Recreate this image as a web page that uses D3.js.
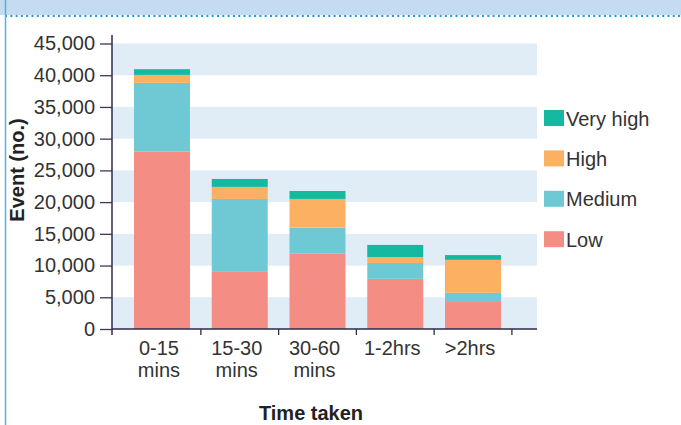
<!DOCTYPE html>
<html>
<head>
<meta charset="utf-8">
<script src="https://cdn.jsdelivr.net/npm/d3@7"></script>
<style>
  body { margin: 0; background: #fff; }
  text { font-family: "Liberation Sans", Arial, sans-serif; }
</style>
</head>
<body>
<svg id="chart"></svg>
<script>
// width and height of the whole picture
const width = 681;
const height = 425;

// categories on the x axis (two lines each)
const categories = ["0-15 mins", "15-30 mins", "30-60 mins", "1-2hrs", ">2hrs"];
const categoryLines = [["0-15", "mins"], ["15-30", "mins"], ["30-60", "mins"], ["1-2hrs"], [">2hrs"]];

// severity series, bottom to top
const seriesNames = ["Low", "Medium", "High", "Very high"];
const lowValues = [28000, 9000, 11900, 7900, 4400];
const mediumValues = [10800, 11500, 4100, 2500, 1300];
const highValues = [1250, 1900, 4500, 950, 5200];
const veryHighValues = [900, 1250, 1250, 1900, 750];

// y ticks
const yTicks = [0, 5000, 10000, 15000, 20000, 25000, 30000, 35000, 40000, 45000];

const colors = {
    "Low": "#f48e85",
    "Medium": "#6fc9d5",
    "High": "#fbb062",
    "Very high": "#14b9a0"
};

const svg = d3.select("#chart")
    .attr("width", width)
    .attr("height", height);

// header strip and its dotted edge
svg.append("rect")
    .attr("x", 0).attr("y", 0)
    .attr("width", width).attr("height", 15)
    .attr("fill", "#c5dcf0");
svg.append("line")
    .attr("x1", 5).attr("x2", width)
    .attr("y1", 16).attr("y2", 16)
    .attr("stroke", "#1e9ae0")
    .attr("stroke-width", 2)
    .attr("stroke-dasharray", "2,3.3");
// left frame line
svg.append("line")
    .attr("x1", 5.5).attr("x2", 5.5)
    .attr("y1", 0).attr("y2", height)
    .attr("stroke", "#4cb3e6")
    .attr("stroke-width", 1.5);

// scales
const y = d3.scaleLinear()
    .domain([0, 45000])
    .range([329, 43.5]);

const x = d3.scaleBand()
    .domain(categories)
    .range([123.1, 511.9])
    .paddingInner(0.28)
    .paddingOuter(0.14);

const axisX = 112;
const plotRight = 537;

// alternating background bands
const bandStarts = yTicks.filter((d, i) => i % 2 === 0 && d < 45000);
svg.append("g")
    .selectAll("rect")
    .data(bandStarts)
    .join("rect")
    .attr("x", axisX)
    .attr("y", d => y(d + 5000))
    .attr("width", plotRight - axisX)
    .attr("height", d => y(d) - y(d + 5000))
    .attr("fill", "#e0ecf6");

// stacked bars
const rows = categories.map((c, i) => ({
    category: c,
    "Low": lowValues[i],
    "Medium": mediumValues[i],
    "High": highValues[i],
    "Very high": veryHighValues[i]
}));
const stacked = d3.stack().keys(seriesNames)(rows);

svg.append("g")
    .selectAll("g")
    .data(stacked)
    .join("g")
    .attr("fill", d => colors[d.key])
    .selectAll("rect")
    .data(d => d)
    .join("rect")
    .attr("x", d => x(d.data.category))
    .attr("y", d => y(d[1]))
    .attr("width", x.bandwidth())
    .attr("height", d => y(d[0]) - y(d[1]));

// y axis
const yAxis = svg.append("g")
    .attr("transform", `translate(${axisX},0)`)
    .call(d3.axisLeft(y)
        .tickValues(yTicks)
        .tickSize(12)
        .tickPadding(5)
        .tickFormat(d3.format(",")));
yAxis.select(".domain").remove();
yAxis.selectAll(".tick line").attr("stroke", "#3a3a5a").attr("stroke-width", 1.3);
yAxis.selectAll(".tick text")
    .attr("font-size", 20)
    .attr("fill", "#333")
    .attr("font-family", "Liberation Sans, Arial, sans-serif");
svg.append("line")
    .attr("x1", axisX).attr("x2", axisX)
    .attr("y1", 35).attr("y2", 335)
    .attr("stroke", "#2b2b4b").attr("stroke-width", 1.5);

// x axis line and ticks at category boundaries
svg.append("line")
    .attr("x1", axisX).attr("x2", plotRight)
    .attr("y1", y(0)).attr("y2", y(0))
    .attr("stroke", "#2b2b4b").attr("stroke-width", 1.5);
const boundaries = categories.map(c => x(c) + x.bandwidth() + x.step() * x.paddingInner() / 2);
svg.append("g")
    .selectAll("line")
    .data(boundaries)
    .join("line")
    .attr("x1", d => d).attr("x2", d => d)
    .attr("y1", y(0)).attr("y2", y(0) + 6)
    .attr("stroke", "#2b2b4b").attr("stroke-width", 1.3);

// x tick labels
svg.append("g")
    .selectAll("text")
    .data(categories)
    .join("text")
    .attr("x", d => x(d) + x.bandwidth() / 2 - 3)
    .attr("y", 355)
    .attr("text-anchor", "middle")
    .attr("font-size", 20)
    .attr("fill", "#333")
    .selectAll("tspan")
    .data((d, i) => categoryLines[i])
    .join("tspan")
    .attr("x", function () { return d3.select(this.parentNode).attr("x"); })
    .attr("dy", (d, i) => i === 0 ? 0 : 21.7)
    .text(d => d);

// axis titles
svg.append("text")
    .attr("x", 311)
    .attr("y", 420)
    .attr("text-anchor", "middle")
    .attr("font-size", 20)
    .attr("font-weight", "bold")
    .attr("fill", "#222")
    .text("Time taken");

svg.append("text")
    .attr("transform", "translate(24,170) rotate(-90)")
    .attr("text-anchor", "middle")
    .attr("font-size", 20)
    .attr("font-weight", "bold")
    .attr("fill", "#222")
    .text("Event (no.)");

// legend, top to bottom
const legendItems = seriesNames.slice().reverse();
const legend = svg.append("g")
    .selectAll("g")
    .data(legendItems)
    .join("g")
    .attr("transform", (d, i) => `translate(544,${110 + i * 40.4})`);
legend.append("rect")
    .attr("width", 20)
    .attr("height", 16)
    .attr("fill", d => colors[d]);
legend.append("text")
    .attr("x", 22)
    .attr("y", 15.5)
    .attr("font-size", 20)
    .attr("fill", "#333")
    .text(d => d);
</script>
</body>
</html>
